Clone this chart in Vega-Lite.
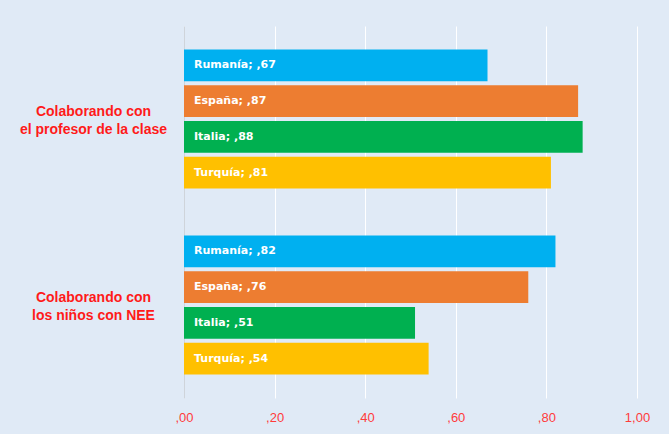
{
  "$schema": "https://vega.github.io/schema/vega-lite/v6.json",
  "width": 453,
  "height": 372,
  "autosize": {"type": "none"},
  "padding": {"left": 184, "top": 26, "right": 32, "bottom": 36},
  "background": "#e0eaf6",
  "config": {"view": {"stroke": null}},
  "data": {
    "values": [
      {"group": "Colaborando con|el profesor de la clase", "country": "Rumanía", "value": 0.67, "label": "Rumanía; ,67"},
      {"group": "Colaborando con|el profesor de la clase", "country": "España", "value": 0.87, "label": "España; ,87"},
      {"group": "Colaborando con|el profesor de la clase", "country": "Italia", "value": 0.88, "label": "Italia; ,88"},
      {"group": "Colaborando con|el profesor de la clase", "country": "Turquía", "value": 0.81, "label": "Turquía; ,81"},
      {"group": "Colaborando con|los niños con NEE", "country": "Rumanía", "value": 0.82, "label": "Rumanía; ,82"},
      {"group": "Colaborando con|los niños con NEE", "country": "España", "value": 0.76, "label": "España; ,76"},
      {"group": "Colaborando con|los niños con NEE", "country": "Italia", "value": 0.51, "label": "Italia; ,51"},
      {"group": "Colaborando con|los niños con NEE", "country": "Turquía", "value": 0.54, "label": "Turquía; ,54"}
    ]
  },
  "encoding": {
    "y": {
      "field": "group",
      "type": "nominal",
      "sort": ["Colaborando con|el profesor de la clase", "Colaborando con|los niños con NEE"],
      "scale": {"paddingInner": 0, "paddingOuter": 0},
      "axis": {
        "title": null,
        "ticks": false,
        "domainColor": "#cfd4da",
        "labelExpr": "split(datum.label, '|')",
        "labelAlign": "center",
        "labelBaseline": "middle",
        "labelPadding": 91,
        "labelOffset": -7,
        "labelLineHeight": 18,
        "labelFont": "Liberation Sans",
        "labelFontSize": 14,
        "labelFontWeight": "bold",
        "labelColor": "#ff1a1a",
        "labelLimit": 200
      }
    },
    "yOffset": {
      "field": "country",
      "type": "nominal",
      "sort": ["Rumanía", "España", "Italia", "Turquía"],
      "scale": {"paddingInner": 0.111, "paddingOuter": 0.66}
    }
  },
  "layer": [
    {
      "mark": {"type": "bar"},
      "encoding": {
        "x": {
          "field": "value",
          "type": "quantitative",
          "scale": {"domain": [0, 1], "nice": false},
          "axis": {
            "title": null,
            "values": [0, 0.2, 0.4, 0.6, 0.8, 1],
            "labelExpr": "datum.value >= 1 ? '1,00' : ',' + substring(format(datum.value, '.2f'), 2)",
            "domain": false,
            "ticks": false,
            "grid": true,
            "gridColor": "#ffffff",
            "gridWidth": 1,
            "labelFlush": false,
            "labelPadding": 13,
            "labelFont": "Liberation Sans",
            "labelFontSize": 13,
            "labelColor": "#ff3b3b"
          }
        },
        "color": {
          "field": "country",
          "type": "nominal",
          "scale": {"domain": ["Rumanía", "España", "Italia", "Turquía"], "range": ["#00b0f0", "#ed7d31", "#00b050", "#ffc000"]},
          "legend": null
        }
      }
    },
    {
      "mark": {"type": "text", "align": "left", "baseline": "middle", "dx": 10, "color": "#ffffff", "font": "DejaVu Sans", "fontSize": 11, "fontWeight": "bold"},
      "encoding": {
        "x": {"datum": 0, "type": "quantitative"},
        "text": {"field": "label"}
      }
    }
  ]
}
